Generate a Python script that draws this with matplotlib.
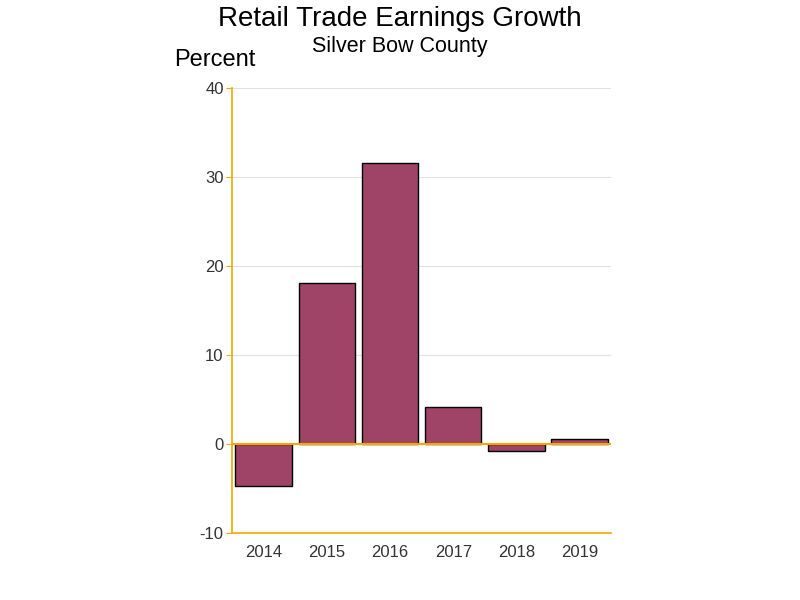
import matplotlib
matplotlib.use("Agg")
import matplotlib.pyplot as plt
import numpy as np

plt.rcParams["font.family"] = ["Liberation Sans", "DejaVu Sans"]

# Data
years = ["2014", "2015", "2016", "2017", "2018", "2019"]
growth = [-4.7, 18.1, 31.6, 4.15, -0.8, 0.55]
y_ticks = [-10, 0, 10, 20, 30, 40]

BAR_COLOR = "#9f4467"
AXIS_COLOR = "#f5a800"

fig = plt.figure(figsize=(8, 6), dpi=100)
ax = fig.add_axes([0.29, 0.1117, 0.474, 0.7416])

x = np.arange(len(years))
ax.bar(x, growth, width=0.89, color=BAR_COLOR, edgecolor="black",
       linewidth=1.0, zorder=3)
ax.axhline(0, color=AXIS_COLOR, linewidth=1.5, zorder=4)

ax.set_xlim(-0.5, len(years) - 0.5)
ax.set_ylim(-10, 40)
ax.set_xticks(x)
ax.set_xticklabels(years, fontsize=12, color="#333333")
ax.set_yticks(y_ticks)
ax.set_yticklabels([str(t) for t in y_ticks], fontsize=12, color="#333333")
ax.tick_params(axis="x", length=0, pad=9)
ax.tick_params(axis="y", length=4, color=AXIS_COLOR, pad=2)

ax.grid(True, axis="y", color="#e0e0e0", linewidth=0.8, zorder=0)
for side in ("top", "right"):
    ax.spines[side].set_visible(False)
for side in ("left", "bottom"):
    ax.spines[side].set_color(AXIS_COLOR)
    ax.spines[side].set_linewidth(1.2)

fig.text(0.5, 0.968, "Retail Trade Earnings Growth", ha="center", va="center",
         fontsize=20)
fig.text(0.5, 0.922, "Silver Bow County", ha="center", va="center",
         fontsize=15.5)
fig.text(0.2175, 0.9, "Percent", ha="left", va="center", fontsize=17)

fig.savefig("out.png", dpi=100)
